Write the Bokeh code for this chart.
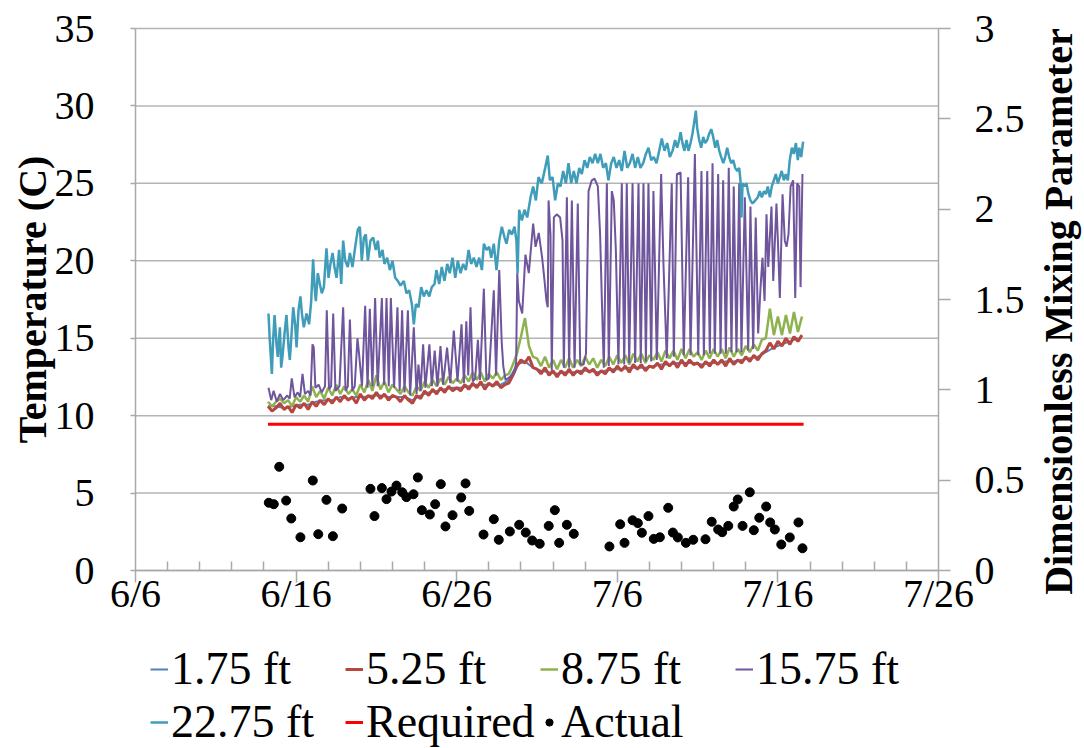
import numpy as np
from math import pi
from bokeh.plotting import figure
from bokeh.models import Range1d, LinearAxis, FixedTicker, Legend, LegendItem, Label
from bokeh.embed import file_html
from bokeh.resources import INLINE

# ---- axes ----
x_tick_days = [0, 10, 20, 30, 40, 50]          # days after June 6
x_tick_labels = ["6/6", "6/16", "6/26", "7/6", "7/16", "7/26"]
x_minor_days = [2, 4, 6, 8, 12, 14, 16, 18, 22, 24, 26, 28, 32, 34, 36, 38, 42, 44, 46, 48]
temp_ticks = [0, 5, 10, 15, 20, 25, 30, 35]
mix_ticks = [0, 0.5, 1, 1.5, 2, 2.5, 3]
mix_tick_labels = ["0", "0.5", "1", "1.5", "2", "2.5", "3"]

# ---- temperature records, (day after June 6, degC) ----
depth_175_start = 8.25
depth_175_step = 0.5
depth_175 = [10.6, 10.6, 10.5, 10.6, 10.7, 10.7, 10.9, 11.0, 11.0, 11.2, 11.1, 11.2, 11.2, 11.3,
             11.3, 11.2, 11.2, 11.2, 11.0, 11.3, 11.5, 11.6, 11.7, 11.8, 11.8, 11.9, 12.0, 12.0,
             12.0, 12.0, 12.3, 13.3, 13.5, 13.1, 12.9, 12.8, 12.7, 12.8, 12.8, 12.9, 12.9, 12.8,
             12.9, 13.0, 13.0, 13.1, 13.1, 13.1, 13.2, 13.3, 13.3, 13.4, 13.4, 13.4, 13.3, 13.4,
             13.4, 13.5, 13.5, 13.6, 13.7, 13.8, 14.1, 14.4, 14.6, 14.8, 15.0]

depth_525_start = 8.25
depth_525_step = 0.25
depth_525 = [10.6, 10.3, 10.5, 10.8, 10.4, 10.6, 10.2, 10.7, 10.5, 10.8, 10.4, 10.9,
             10.6, 11.0, 10.7, 11.1, 10.8, 11.2, 10.9, 11.3, 11.0, 11.2, 10.8, 11.4,
             11.0, 11.3, 11.1, 11.5, 11.1, 11.4, 11.0, 11.3, 11.2, 10.9, 11.3, 11.0,
             10.8, 11.3, 11.1, 11.6, 11.3, 11.7, 11.4, 11.8, 11.5, 11.9, 11.6, 11.8,
             11.6, 12.0, 11.7, 12.1, 11.8, 12.2, 11.7, 12.1, 11.9, 12.2, 11.8, 12.0,
             12.1, 12.6, 13.2, 13.6, 13.4, 13.8, 13.1, 13.0, 12.7, 13.1, 12.6, 12.9,
             12.5, 12.9, 12.6, 13.0, 12.6, 12.9, 12.7, 13.1, 12.8, 13.0, 12.6, 12.9,
             12.7, 13.1, 12.8, 13.2, 12.9, 13.2, 12.8, 13.3, 13.0, 13.3, 12.9, 13.2,
             13.1, 13.4, 13.0, 13.5, 13.2, 13.5, 13.1, 13.6, 13.2, 13.6, 13.3, 13.4,
             13.1, 13.5, 13.2, 13.6, 13.3, 13.6, 13.2, 13.7, 13.3, 13.6, 13.4, 13.8,
             13.5, 13.9, 13.6, 14.0, 14.2, 14.7, 14.3, 14.8, 14.5, 15.0, 14.6, 15.1,
             14.8, 15.2]

depth_875_start = 8.25
depth_875_step = 0.25
depth_875 = [10.9, 10.6, 10.9, 11.1, 10.8, 11.0, 10.6, 11.2, 10.9, 11.3, 10.9, 11.9,
             11.2, 11.6, 11.1, 11.8, 11.3, 12.0, 11.4, 11.9, 11.4, 11.7, 11.3, 12.0,
             11.5, 12.3, 11.6, 12.6, 11.7, 12.2, 11.5, 12.0, 11.7, 11.4, 11.9, 11.5,
             11.3, 11.9, 11.6, 12.2, 11.8, 12.3, 11.9, 12.4, 12.0, 12.5, 12.1, 12.4,
             12.1, 12.6, 12.2, 12.8, 12.3, 12.8, 12.2, 12.7, 12.4, 12.8, 12.3, 12.6,
             12.7, 13.3, 14.0, 15.1, 16.3, 14.5, 13.8, 13.7, 13.2, 13.8, 13.1, 13.6,
             13.0, 13.6, 13.1, 13.7, 13.1, 13.6, 13.2, 13.8, 13.3, 13.7, 13.1, 13.6,
             13.2, 13.8, 13.3, 13.9, 13.4, 13.9, 13.3, 14.0, 13.5, 14.0, 13.4, 13.9,
             13.6, 14.1, 13.5, 14.2, 13.7, 14.2, 13.6, 14.3, 13.7, 14.3, 13.8, 14.1,
             13.6, 14.2, 13.7, 14.3, 13.8, 14.3, 13.7, 14.4, 13.8, 14.3, 13.9, 14.5,
             14.1, 14.6, 14.2, 14.9, 15.0, 16.9, 15.2, 16.4, 15.2, 16.5, 15.3, 16.7,
             15.4, 16.4]

depth_1575 = [(8.28, 11.8), (8.45, 11.0), (8.60, 11.6), (8.80, 10.9), (9.00, 11.4), (9.20, 11.0),
              (9.45, 11.3), (9.60, 11.1), (9.73, 12.4), (9.90, 11.2), (10.10, 11.5), (10.25, 11.2),
              (10.40, 12.7), (10.55, 11.4), (10.75, 11.6), (10.90, 11.3), (11.02, 14.6), (11.10, 14.4),
              (11.20, 11.8), (11.40, 12.0), (11.60, 11.5), (11.80, 11.9), (11.91, 16.8), (12.05, 11.7),
              (12.18, 11.9), (12.31, 16.6), (12.45, 11.6), (12.70, 11.9), (12.93, 17.0), (13.08, 11.6),
              (13.22, 11.9), (13.35, 16.2), (13.50, 11.6), (13.65, 11.9), (13.82, 15.0), (13.92, 14.0),
              (14.10, 11.9), (14.30, 17.1), (14.45, 11.8), (14.59, 16.9), (14.75, 11.9), (14.92, 17.6),
              (15.08, 11.9), (15.34, 17.6), (15.48, 12.0), (15.63, 17.6), (15.77, 11.9), (15.90, 17.6),
              (16.10, 11.8), (16.31, 17.0), (16.45, 11.6), (16.60, 16.8), (16.75, 11.5), (16.96, 16.8),
              (17.10, 11.3), (17.33, 15.7), (17.50, 11.4), (17.62, 13.3), (17.75, 11.6), (17.91, 14.6),
              (18.05, 11.8), (18.30, 14.6), (18.45, 11.9), (18.63, 14.2), (18.80, 11.9), (18.99, 14.5),
              (19.15, 12.0), (19.40, 14.4), (19.60, 12.1), (19.82, 15.5), (20.05, 12.2), (20.30, 15.9),
              (20.45, 12.1), (20.60, 16.1), (20.72, 12.6), (20.86, 17.0), (21.00, 12.2), (21.15, 12.4),
              (21.32, 14.9), (21.45, 12.3), (21.69, 18.2), (21.85, 12.3), (22.00, 12.4), (22.31, 18.1),
              (22.45, 12.6), (22.65, 19.4), (22.80, 14.8), (22.90, 13.2), (23.04, 12.3), (23.30, 12.5),
              (23.60, 12.8), (23.70, 13.4), (23.77, 19.2), (23.87, 17.4), (24.08, 16.6), (24.28, 20.4),
              (24.49, 19.2), (24.70, 21.7), (24.76, 22.4), (24.91, 20.9), (25.11, 21.8), (25.32, 20.2),
              (25.47, 18.7), (25.59, 17.4), (25.67, 17.0), (25.72, 23.9), (25.84, 21.7), (25.92, 12.9),
              (26.05, 22.8), (26.23, 23.0), (26.44, 22.8), (26.59, 21.3), (26.67, 13.1), (26.86, 24.1),
              (27.00, 13.1), (27.17, 23.9), (27.34, 13.1), (27.54, 23.7), (27.69, 13.3), (27.90, 13.3),
              (28.05, 14.0), (28.21, 24.5), (28.41, 25.2), (28.58, 25.3), (28.79, 24.8), (28.93, 21.7),
              (29.04, 17.4), (29.16, 13.1), (29.35, 25.0), (29.47, 13.2), (29.66, 24.5), (29.78, 23.9),
              (29.91, 20.7), (30.07, 13.3), (30.28, 25.0), (30.43, 13.3), (30.59, 25.0), (30.74, 13.4),
              (30.95, 25.0), (31.11, 13.4), (31.32, 25.0), (31.46, 13.4), (31.63, 25.0), (31.78, 13.5),
              (31.94, 25.0), (32.11, 13.5), (32.25, 24.5), (32.46, 13.6), (32.73, 25.6), (32.88, 19.6),
              (33.08, 13.7), (33.39, 25.0), (33.52, 13.8), (33.71, 25.6), (33.94, 25.7), (34.14, 13.9),
              (34.41, 25.4), (34.56, 13.9), (34.83, 26.9), (35.04, 13.9), (35.24, 25.8), (35.39, 13.9),
              (35.60, 25.8), (35.76, 14.0), (35.93, 26.3), (36.07, 14.0), (36.28, 25.6), (36.43, 14.0),
              (36.59, 25.2), (36.76, 14.0), (36.94, 26.0), (37.11, 14.1), (37.25, 24.8), (37.42, 14.1),
              (37.59, 25.0), (37.73, 14.1), (37.94, 24.1), (38.15, 14.2), (38.29, 23.5), (38.46, 14.3),
              (38.62, 22.8), (38.77, 15.3), (38.92, 18.3), (39.04, 20.2), (39.17, 17.4), (39.29, 23.0),
              (39.40, 19.6), (39.60, 23.5), (39.71, 18.7), (39.91, 23.7), (40.02, 20.7), (40.12, 17.6),
              (40.29, 24.3), (40.43, 21.3), (40.54, 20.9), (40.66, 21.7), (40.79, 24.8), (40.95, 25.2),
              (41.08, 17.6), (41.20, 25.0), (41.33, 24.8), (41.41, 18.3), (41.53, 25.6)]

depth_2275 = [(8.28, 16.6), (8.36, 14.9), (8.49, 12.7), (8.57, 14.9), (8.66, 16.5), (8.78, 14.6),
              (8.86, 13.8), (8.99, 15.7), (9.07, 13.1), (9.15, 13.8), (9.28, 15.3), (9.40, 16.5),
              (9.53, 14.4), (9.61, 13.6), (9.73, 15.5), (9.82, 17.0), (9.94, 15.9), (10.03, 14.4),
              (10.15, 16.8), (10.27, 17.7), (10.36, 16.6), (10.48, 15.7), (10.65, 16.6), (10.81, 15.9),
              (10.94, 17.4), (11.06, 20.1), (11.15, 18.3), (11.23, 17.4), (11.35, 19.2), (11.48, 18.5),
              (11.60, 17.9), (11.73, 18.3), (11.89, 20.8), (12.02, 18.9), (12.14, 19.8), (12.27, 20.5),
              (12.39, 19.6), (12.52, 18.9), (12.68, 20.7), (12.81, 18.5), (12.93, 21.3), (13.06, 20.0),
              (13.22, 19.6), (13.35, 20.5), (13.51, 19.6), (13.68, 20.9), (13.84, 22.0), (13.97, 22.2),
              (14.09, 20.0), (14.22, 21.5), (14.34, 21.7), (14.47, 20.0), (14.63, 21.3), (14.80, 21.5),
              (14.96, 20.7), (15.09, 21.3), (15.21, 20.2), (15.38, 20.7), (15.50, 19.8), (15.67, 20.2),
              (15.84, 19.4), (16.00, 20.0), (16.17, 18.9), (16.33, 18.7), (16.50, 18.4), (16.71, 18.7),
              (16.87, 17.9), (17.04, 18.1), (17.21, 17.2), (17.33, 15.9), (17.46, 17.2), (17.62, 17.0),
              (17.79, 18.3), (17.95, 17.7), (18.12, 18.1), (18.29, 17.7), (18.45, 18.3), (18.62, 18.5),
              (18.74, 19.4), (18.91, 18.5), (19.07, 19.6), (19.24, 18.7), (19.41, 19.8), (19.57, 19.2),
              (19.74, 20.2), (19.91, 18.9), (20.07, 20.0), (20.24, 19.2), (20.40, 19.8), (20.57, 19.4),
              (20.74, 20.7), (20.90, 19.8), (21.07, 20.2), (21.23, 19.6), (21.40, 20.2), (21.57, 19.4),
              (21.69, 21.1), (21.86, 20.7), (22.02, 20.9), (22.15, 20.2), (22.31, 21.1), (22.48, 19.4),
              (22.65, 21.3), (22.81, 22.2), (22.98, 21.5), (23.10, 21.1), (23.27, 22.0), (23.43, 21.7),
              (23.60, 22.2), (23.72, 21.3), (23.79, 19.2), (23.89, 23.3), (24.06, 22.6), (24.22, 23.3),
              (24.39, 22.8), (24.60, 24.1), (24.76, 24.8), (24.93, 23.9), (25.09, 25.4), (25.30, 25.0),
              (25.51, 26.0), (25.67, 26.8), (25.80, 25.2), (25.97, 25.4), (26.13, 23.9), (26.30, 25.0),
              (26.46, 24.8), (26.63, 25.8), (26.80, 25.0), (26.96, 26.3), (27.13, 25.0), (27.29, 25.8),
              (27.46, 25.0), (27.63, 26.0), (27.79, 25.6), (27.96, 26.5), (28.13, 26.0), (28.29, 26.7),
              (28.46, 26.3), (28.62, 26.9), (28.79, 26.3), (28.95, 26.9), (29.12, 26.0), (29.29, 26.3),
              (29.45, 25.2), (29.62, 26.3), (29.78, 26.7), (29.95, 26.0), (30.12, 26.5), (30.28, 25.8),
              (30.45, 27.1), (30.62, 26.0), (30.78, 26.3), (30.95, 26.9), (31.11, 26.0), (31.28, 26.7),
              (31.44, 26.0), (31.61, 26.3), (31.78, 26.9), (31.94, 27.3), (32.11, 26.5), (32.27, 26.7),
              (32.44, 26.3), (32.61, 27.1), (32.77, 27.9), (32.94, 27.1), (33.11, 27.6), (33.27, 26.7),
              (33.44, 27.1), (33.60, 27.8), (33.73, 27.3), (33.85, 27.8), (33.94, 28.3), (34.06, 27.6),
              (34.18, 27.1), (34.31, 27.8), (34.43, 27.1), (34.56, 27.6), (34.68, 28.2), (34.81, 29.1),
              (34.89, 29.7), (34.97, 28.6), (35.10, 27.8), (35.22, 27.3), (35.35, 28.0), (35.47, 27.6),
              (35.60, 27.8), (35.72, 28.2), (35.85, 28.5), (35.97, 28.0), (36.10, 27.3), (36.22, 27.8),
              (36.35, 27.1), (36.47, 26.7), (36.60, 26.3), (36.72, 26.7), (36.84, 27.3), (36.97, 26.7),
              (37.09, 26.3), (37.22, 26.5), (37.34, 26.0), (37.47, 25.8), (37.59, 26.0), (37.67, 25.2),
              (37.73, 22.8), (37.80, 25.0), (37.92, 24.8), (38.04, 25.0), (38.17, 24.3), (38.29, 23.9),
              (38.42, 23.7), (38.59, 23.9), (38.75, 24.1), (38.87, 24.5), (39.00, 24.1), (39.13, 24.5),
              (39.25, 24.3), (39.37, 24.8), (39.50, 24.1), (39.62, 24.8), (39.75, 25.2), (39.87, 25.6),
              (40.00, 25.0), (40.12, 25.4), (40.24, 25.8), (40.37, 25.2), (40.49, 25.6), (40.62, 25.2),
              (40.74, 26.5), (40.87, 27.3), (40.99, 26.9), (41.12, 27.6), (41.24, 26.5), (41.33, 27.3),
              (41.45, 26.7), (41.57, 27.7)]

# ---- mixing parameter ----
required_days = [8.25, 41.6]
required_mix = [0.81, 0.81]

actual_days = [8.30, 8.61, 8.95, 9.38, 9.70, 10.27, 11.04, 11.38, 11.89, 12.29, 12.87, 14.63, 14.88,
               15.34, 15.63, 15.94, 16.25, 16.61, 16.87, 17.31, 17.58, 17.83, 18.33, 18.66, 19.01,
               19.30, 19.74, 20.28, 20.55, 20.78, 21.67, 22.31, 22.62, 23.31, 23.89, 24.30, 24.70,
               25.17, 25.73, 26.11, 26.38, 26.86, 27.29, 29.51, 30.18, 30.45, 30.95, 31.28, 31.53,
               31.94, 32.27, 32.65, 33.17, 33.46, 33.77, 34.27, 34.73, 35.49, 35.88, 36.28, 36.53,
               36.91, 37.25, 37.50, 37.80, 38.25, 38.50, 38.84, 39.27, 39.52, 39.81, 40.21, 40.74,
               41.28, 41.53]
actual_mix = [0.375, 0.367, 0.574, 0.387, 0.288, 0.184, 0.498, 0.201, 0.391, 0.190, 0.343, 0.452,
              0.301, 0.456, 0.395, 0.437, 0.470, 0.433, 0.406, 0.422, 0.515, 0.334, 0.310, 0.367,
              0.478, 0.244, 0.306, 0.404, 0.482, 0.330, 0.199, 0.284, 0.170, 0.216, 0.253, 0.210,
              0.166, 0.148, 0.247, 0.334, 0.153, 0.253, 0.203, 0.133, 0.256, 0.153, 0.278, 0.262,
              0.209, 0.301, 0.175, 0.184, 0.347, 0.210, 0.183, 0.153, 0.170, 0.173, 0.270, 0.227,
              0.212, 0.247, 0.354, 0.393, 0.247, 0.433, 0.223, 0.292, 0.354, 0.266, 0.227, 0.144,
              0.183, 0.266, 0.123]

COLORS = {
    "1.75 ft": "#4F81BD",
    "5.25 ft": "#B8463F",
    "8.75 ft": "#8DB24E",
    "15.75 ft": "#6F559C",
    "22.75 ft": "#3F9DBA",
}
SERIF = "Liberation Serif"
AXIS_GREY = "#A9A9A9"

# ---- page geometry (px) ----
W, H = 1084, 748
PLOT_L, PLOT_R, PLOT_T, PLOT_B = 135, 938, 28, 570   # where the data area sits
DAY_SPAN = x_tick_days[-1] - x_tick_days[0]
TEMP_TOP = temp_ticks[-1]
MIX_TOP = mix_ticks[-1]

# The frame fills the whole page; the ranges are padded so that the data area
# lands at PLOT_*, with the axes pinned to its edges and everything else
# (titles, tick labels, legend) drawn around it inside the same frame.
px_day = (PLOT_R - PLOT_L) / DAY_SPAN
px_deg = (PLOT_B - PLOT_T) / TEMP_TOP
px_mix = (PLOT_B - PLOT_T) / MIX_TOP
x_rng = Range1d(x_tick_days[0] - PLOT_L / px_day, x_tick_days[-1] + (W - PLOT_R) / px_day)
t_rng = Range1d(-(H - PLOT_B) / px_deg, TEMP_TOP + PLOT_T / px_deg)
m_rng = Range1d(-(H - PLOT_B) / px_mix, MIX_TOP + PLOT_T / px_mix)

p = figure(width=W, height=H, x_range=x_rng, y_range=t_rng, title=None,
           output_backend="svg", toolbar_location=None,
           min_border_left=0, min_border_right=0, min_border_top=0, min_border_bottom=0)
p.outline_line_color = None
p.background_fill_color = "white"
p.border_fill_color = "white"
p.extra_y_ranges = {"mix": m_rng}
p.xgrid.visible = False
p.ygrid.visible = False

# horizontal gridlines across the data area only
p.segment(x0=[x_tick_days[0]] * len(temp_ticks), x1=[x_tick_days[-1]] * len(temp_ticks),
          y0=temp_ticks, y1=temp_ticks, line_color="#B4B4B4", line_width=1.5, level="underlay")

# date axis pinned at 0 degC
xa = p.xaxis[0]
xa.fixed_location = 0
xa.bounds = (x_tick_days[0], x_tick_days[-1])
xa.ticker = FixedTicker(ticks=x_tick_days, minor_ticks=x_minor_days)
xa.major_label_overrides = {d: s for d, s in zip(x_tick_days, x_tick_labels)}
xa.major_tick_out = 12
xa.major_tick_in = 0
xa.minor_tick_in = 9
xa.minor_tick_out = 0
xa.major_label_standoff = -12

# temperature axis pinned at the first day
ya = p.yaxis[0]
ya.fixed_location = x_tick_days[0]
ya.bounds = (0, TEMP_TOP)
ya.ticker = FixedTicker(ticks=temp_ticks)
ya.major_tick_out = 5
ya.major_tick_in = 0
ya.minor_tick_out = 0
ya.major_label_standoff = 36

# mixing-parameter axis pinned at the last day
ra = LinearAxis(y_range_name="mix", ticker=FixedTicker(ticks=mix_ticks), bounds=(0, MIX_TOP),
                fixed_location=x_tick_days[-1])
ra.major_label_overrides = {t: s for t, s in zip(mix_ticks, mix_tick_labels)}
ra.major_tick_out = 12
ra.major_tick_in = 0
ra.minor_tick_out = 0
ra.major_label_standoff = 24
p.add_layout(ra, "right")

for ax in (xa, ya, ra):
    ax.axis_line_color = AXIS_GREY
    ax.axis_line_width = 1.5
    ax.major_tick_line_color = AXIS_GREY
    ax.major_tick_line_width = 1.5
    ax.minor_tick_line_color = AXIS_GREY
    ax.minor_tick_line_width = 1.5
    ax.major_label_text_font = SERIF
    ax.major_label_text_font_size = "40px"
    ax.major_label_text_color = "black"

# axis titles (screen px from the page's bottom-left corner), reading upward
title_style = dict(x_units="screen", y_units="screen", angle=pi / 2, text_align="center",
                   text_baseline="middle", text_font=SERIF, text_font_style="bold",
                   text_font_size="40px", text_color="black")
p.add_layout(Label(x=32, y=H - (PLOT_T + PLOT_B) / 2, text="Temperature (C)", **title_style))
p.add_layout(Label(x=1058, y=H - 311, text="Dimensionless Mixing Parameter", **title_style))

# temperature series
def steps(start, step, vals):
    return [start + step * i for i in range(len(vals))]

r175 = p.line(steps(depth_175_start, depth_175_step, depth_175), depth_175,
              line_color=COLORS["1.75 ft"], line_width=2)
r525 = p.line(steps(depth_525_start, depth_525_step, depth_525), depth_525,
              line_color=COLORS["5.25 ft"], line_width=3)
r875 = p.line(steps(depth_875_start, depth_875_step, depth_875), depth_875,
              line_color=COLORS["8.75 ft"], line_width=2.5)
r1575 = p.line([d for d, _ in depth_1575], [t for _, t in depth_1575],
               line_color=COLORS["15.75 ft"], line_width=2)
r2275 = p.line([d for d, _ in depth_2275], [t for _, t in depth_2275],
               line_color=COLORS["22.75 ft"], line_width=2.5)

# mixing parameter
rreq = p.line(required_days, required_mix, y_range_name="mix", line_color="#FF0000", line_width=3)
ract = p.scatter(actual_days, actual_mix, y_range_name="mix", marker="circle", size=9,
                 fill_color="black", line_color="black")

# two legend rows; items are listed column by column
legend = Legend(items=[
    LegendItem(label="1.75 ft", renderers=[r175]),
    LegendItem(label="22.75 ft", renderers=[r2275]),
    LegendItem(label="5.25 ft", renderers=[r525]),
    LegendItem(label="Required", renderers=[rreq]),
    LegendItem(label="8.75 ft", renderers=[r875]),
    LegendItem(label="Actual", renderers=[ract]),
    LegendItem(label="15.75 ft", renderers=[r1575]),
], ncols=4, location=(PLOT_L + 15, 0))
legend.label_text_font = SERIF
legend.label_text_font_size = "46px"
legend.label_text_color = "black"
legend.label_width = 174
legend.label_standoff = 3
legend.glyph_width = 18
legend.glyph_height = 20
legend.spacing = 0
legend.padding = 0
legend.margin = 0
legend.border_line_color = None
legend.background_fill_alpha = 0
p.add_layout(legend)

open("out.html", "w").write(file_html(p, INLINE))
